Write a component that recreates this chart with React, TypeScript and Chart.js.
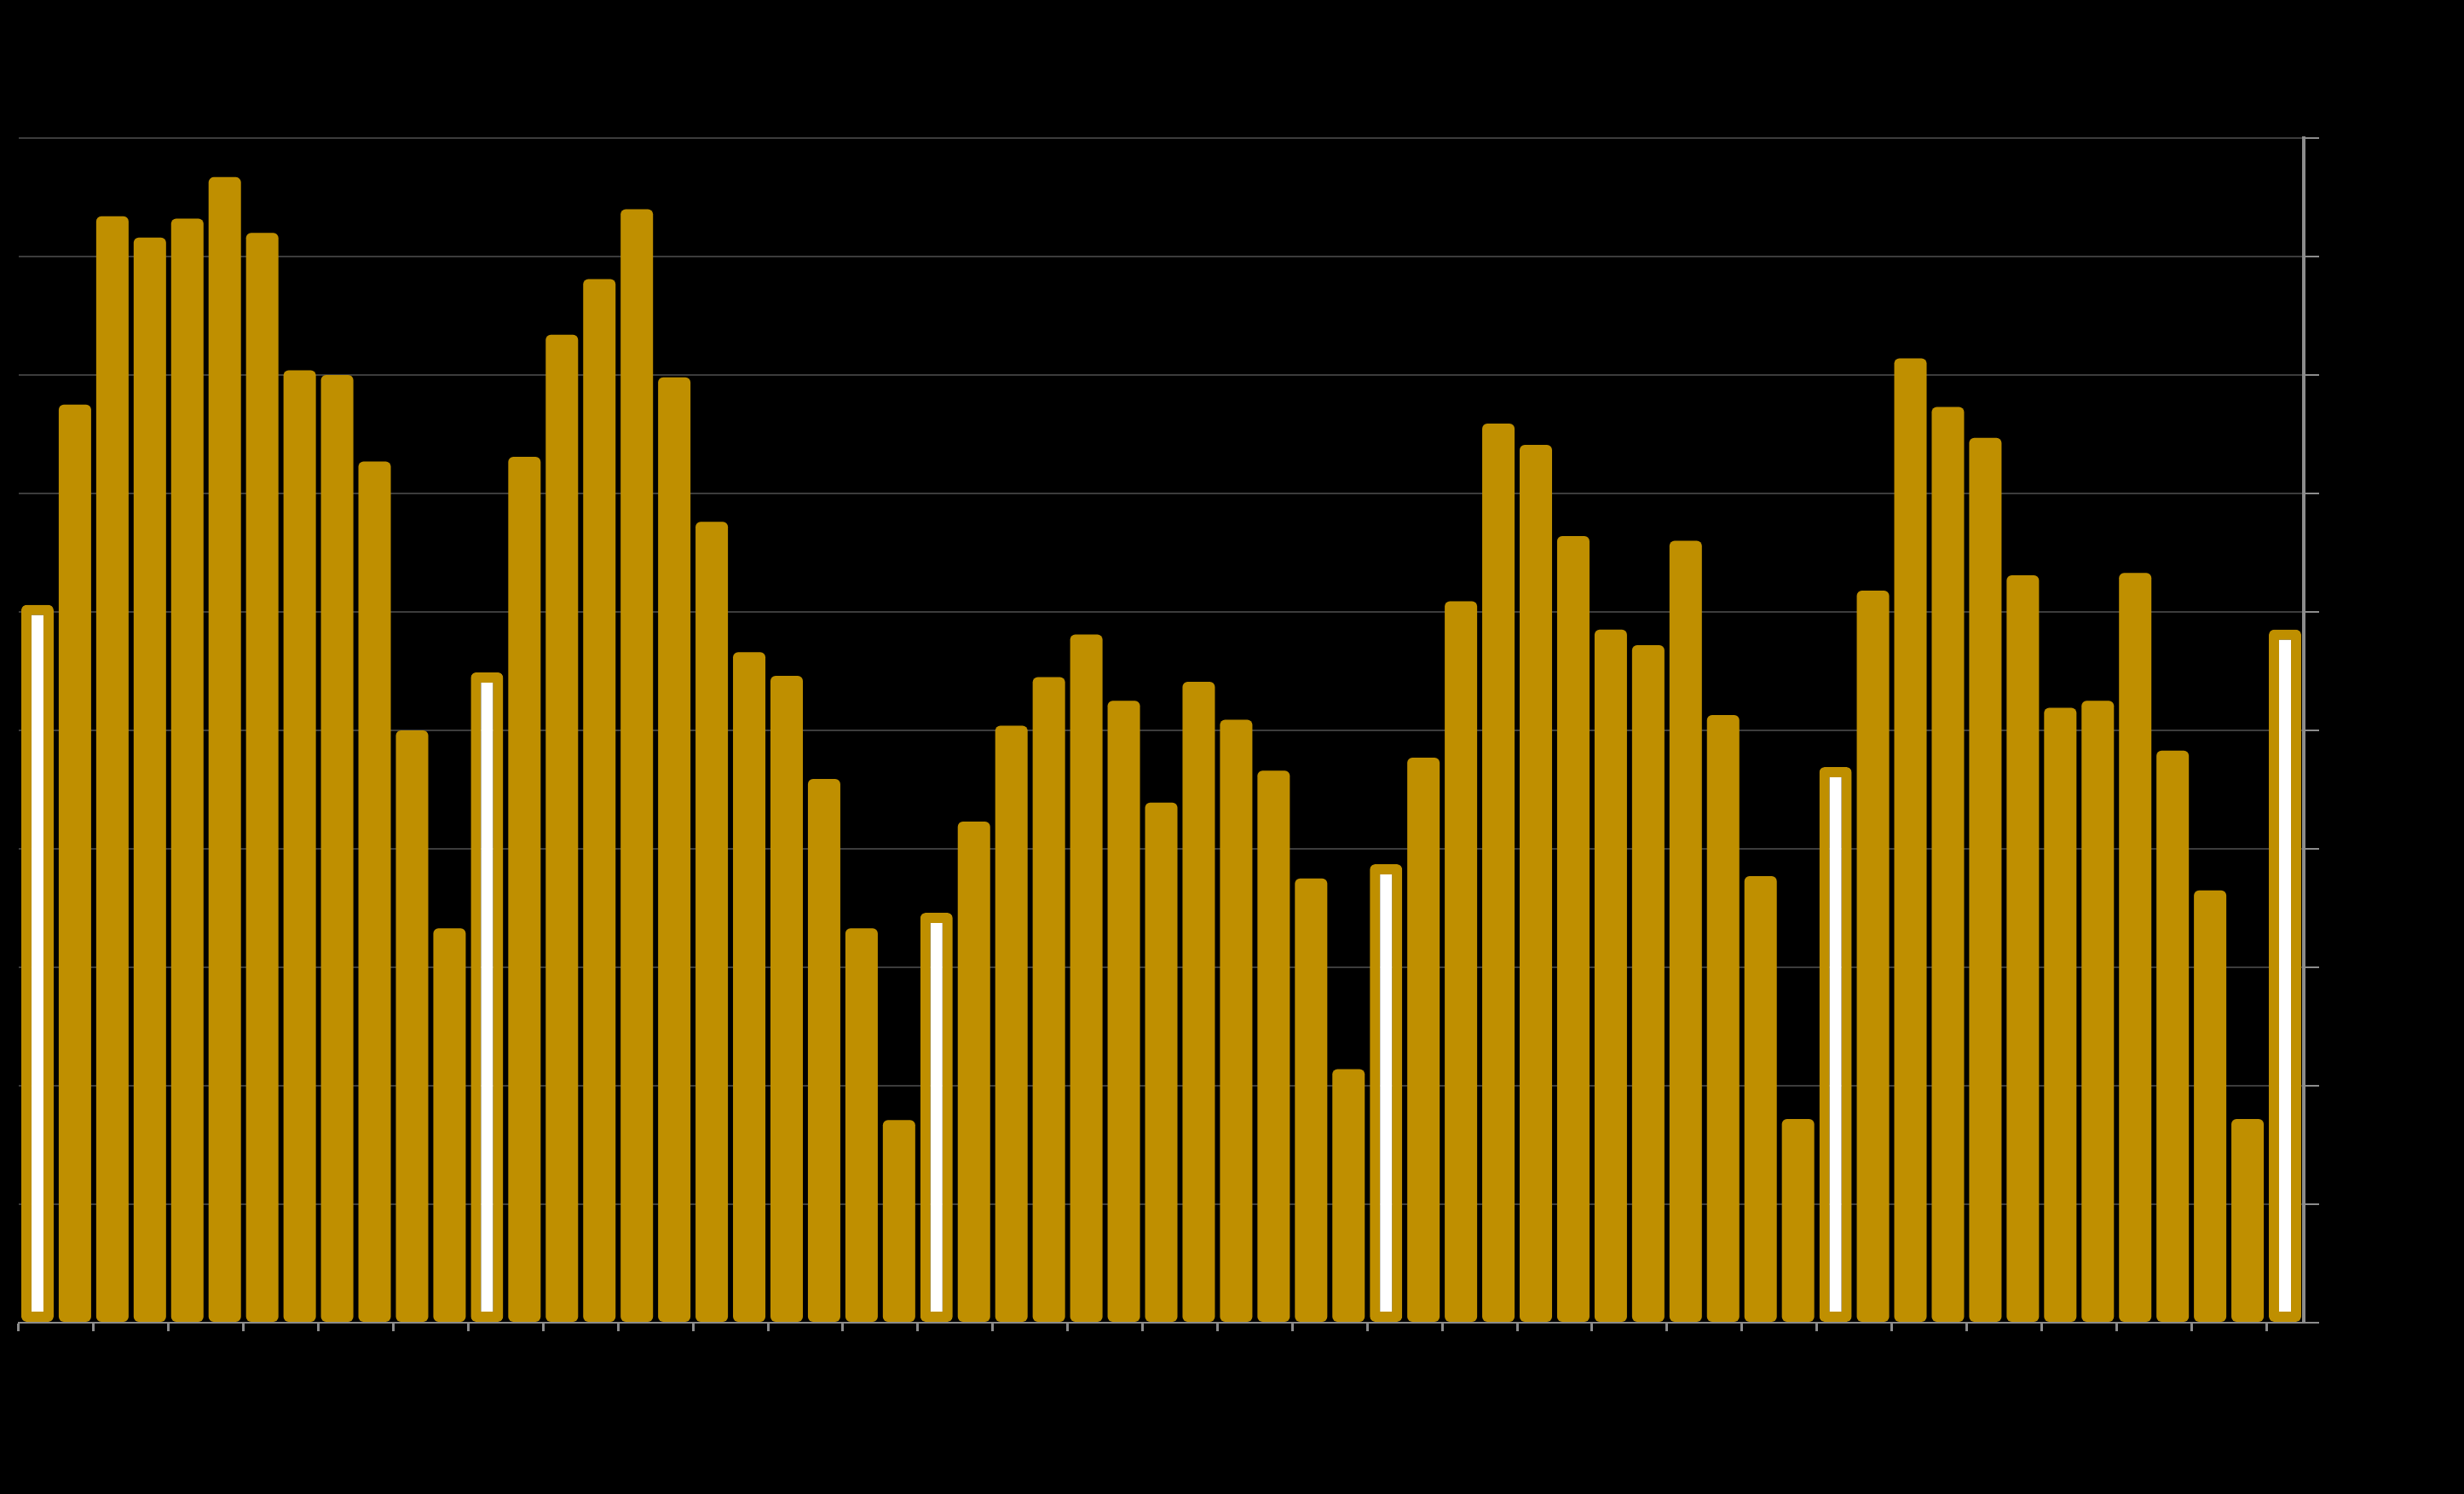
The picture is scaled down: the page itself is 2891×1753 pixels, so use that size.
import React, { useEffect, useRef } from "react";
import { Chart, registerables } from "chart.js";

Chart.register(...registerables);

const MONTHS = ["Jan", "Feb", "Mar", "Apr", "May", "Jun", "Jul", "Aug", "Sep", "Oct", "Nov", "Dec"];
const YEARS = ["19", "20", "21", "22", "23", "24"];

const categories: string[] = [];
YEARS.forEach((y, yi) => {
  MONTHS.forEach((m, mi) => {
    if (yi < YEARS.length - 1 || mi === 0) categories.push(`${m}-${y}`);
  });
});

const values: number[] = [
  60.6, 77.5, 93.4, 91.6, 93.2, 96.7, 92.0, 80.4, 80.0, 72.7, 50.0, 33.3,
  54.9, 73.1, 83.4, 88.1, 94.0, 79.8, 67.6, 56.6, 54.6, 45.9, 33.3, 17.1,
  34.6, 42.3, 50.4, 54.5, 58.1, 52.5, 43.9, 54.1, 50.9, 46.6, 37.5, 21.4,
  38.7, 47.7, 60.9, 75.9, 74.1, 66.4, 58.5, 57.2, 66.0, 51.3, 37.7, 17.2,
  46.9, 61.8, 81.4, 77.3, 74.7, 63.1, 51.9, 52.5, 63.3, 48.3, 36.5, 17.2,
  58.5,
];

const yTicks = { min: 0, max: 100, step: 10 };

const GOLD = "#bf8f00";
const GRID = "#3c3c3c";
const AXIS = "#8c8c8c";

const isHighlight = (i: number) => String(categories[i] || "").startsWith("Jan");

export default function App() {
  const ref = useRef<HTMLCanvasElement>(null);

  useEffect(() => {
    document.body.style.margin = "0";
    document.body.style.background = "#000";
    document.body.style.overflow = "hidden";
    const canvas = ref.current!;
    const chart = new Chart(canvas, {
      type: "bar",
      data: {
        labels: categories,
        datasets: [
          {
            data: values,
            backgroundColor: (ctx: any) => (isHighlight(ctx.dataIndex) ? "#ffffff" : GOLD),
            borderColor: GOLD,
            borderWidth: (ctx: any) => (isHighlight(ctx.dataIndex) ? 12 : 0),
            borderRadius: 6,
            borderSkipped: false,
            categoryPercentage: 1,
            barPercentage: 0.865,
          },
        ],
      },
      options: {
        responsive: false,
        animation: false,
        events: [],
        layout: { padding: { left: 22, top: 162, right: 170, bottom: 191 } },
        plugins: { legend: { display: false }, tooltip: { enabled: false } },
        scales: {
          x: {
            type: "category",
            offset: true,
            grid: {
              display: true,
              offset: true,
              drawOnChartArea: false,
              drawTicks: true,
              tickLength: 10,
              lineWidth: 3,
              tickColor: (ctx: any) => (ctx.index % 2 === 0 ? AXIS : "rgba(0,0,0,0)"),
            },
            border: { display: true, color: AXIS, width: 2, z: 1 },
            ticks: { display: false, autoSkip: false },
          },
          y: {
            position: "right",
            min: yTicks.min,
            max: yTicks.max,
            grid: {
              color: GRID,
              lineWidth: 2,
              drawTicks: true,
              tickLength: 18,
              tickColor: AXIS,
            },
            border: { display: true, color: AXIS, width: 4, z: 1 },
            ticks: { display: false, stepSize: yTicks.step },
          },
        },
      },
    });
    return () => chart.destroy();
  }, []);

  return (
    <div style={{ width: 2891, height: 1753, background: "#000" }}>
      <canvas ref={ref} width={2891} height={1753} style={{ display: "block" }} />
    </div>
  );
}
